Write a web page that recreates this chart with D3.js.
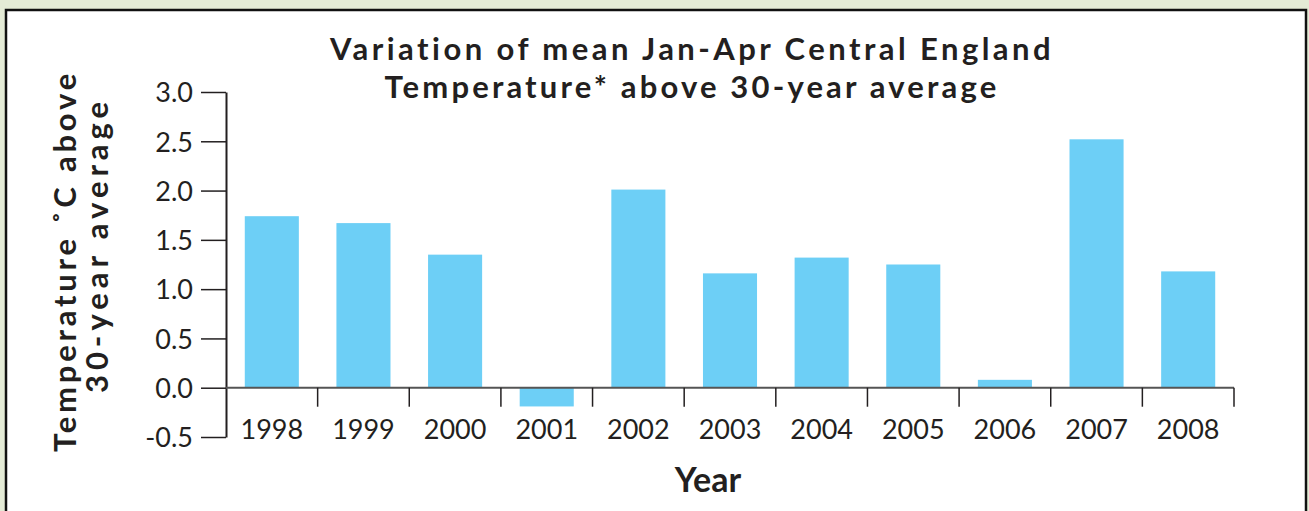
<!DOCTYPE html>
<html>
<head>
<meta charset="utf-8">
<script src="https://cdn.jsdelivr.net/npm/d3@7"></script>
<style>
  html, body { margin: 0; padding: 0; background: #e4ebd6; }
  svg { display: block; }
  text { font-family: Lato, "Open Sans", sans-serif; fill: #231f20; font-variant-ligatures: none; }
</style>
</head>
<body>
<script>
const years = ["1998","1999","2000","2001","2002","2003","2004","2005","2006","2007","2008"];
const anomalies = [1.74, 1.67, 1.35, -0.19, 2.01, 1.16, 1.32, 1.25, 0.08, 2.52, 1.18];
const yTicks = [-0.5, 0.0, 0.5, 1.0, 1.5, 2.0, 2.5, 3.0];
const titleLines = ["Variation of mean Jan-Apr Central England", "Temperature* above 30-year average"];
const yLabelLines = ["Temperature \u02DAC above", "30-year average"];
const xLabel = "Year";

const W = 1309, H = 511;
const svg = d3.select("body").append("svg").attr("width", W).attr("height", H);

// frame
svg.append("rect").attr("x", 6).attr("y", 10).attr("width", 1300).attr("height", 520)
  .attr("fill", "#fff").attr("stroke", "#111").attr("stroke-width", 2.5);

const x0 = 226, x1 = 1234;
const x = d3.scaleBand().domain(years).range([x0, x1]).paddingInner(0.41).paddingOuter(0.205);
const y = d3.scaleLinear().domain([-0.5, 3.0]).range([437, 92]);

// bars
svg.append("g").selectAll("rect").data(years).join("rect")
  .attr("x", d => x(d))
  .attr("width", x.bandwidth())
  .attr("y", (d, i) => y(Math.max(0, anomalies[i])))
  .attr("height", (d, i) => Math.abs(y(anomalies[i]) - y(0)))
  .attr("fill", "#6dcff6");

// y axis
const yAxis = svg.append("g").attr("transform", `translate(${x0},0)`)
  .call(d3.axisLeft(y).tickValues(yTicks).tickSize(25).tickSizeOuter(0).tickPadding(8));
yAxis.select(".domain").attr("stroke", "#231f20").attr("stroke-width", 2);
yAxis.selectAll(".tick line").attr("stroke", "#231f20").attr("stroke-width", 1.5);
yAxis.selectAll(".tick text").style("font-size", "27px").attr("fill", "#231f20")
  .text(d => d < 0 ? "-" + Math.abs(d).toFixed(1) : d.toFixed(1)).attr("dy", "0.36em");

// x axis at zero: line + boundary ticks
const xAxisScale = d3.scaleLinear().domain([0, years.length]).range([x0, x1]);
const xg = svg.append("g").attr("transform", `translate(0,${y(0)})`);
xg.append("line").attr("x1", x0).attr("x2", x1).attr("y1", 0).attr("y2", 0)
  .attr("stroke", "#555").attr("stroke-width", 2);
xg.selectAll("line.tk").data(d3.range(1, years.length + 1)).join("line").attr("class", "tk")
  .attr("x1", d => xAxisScale(d)).attr("x2", d => xAxisScale(d)).attr("y1", 0).attr("y2", 19)
  .attr("stroke", "#231f20").attr("stroke-width", 1.5);
svg.append("g").selectAll("text").data(years).join("text")
  .attr("x", d => x(d) + x.bandwidth() / 2).attr("y", 439)
  .attr("text-anchor", "middle").style("font-size", "27px").text(d => d);

// spread text to a target width with letter spacing (glyph size kept)
function fitText(sel, target) {
  const w = sel.node().getComputedTextLength();
  const n = sel.text().length;
  sel.style("letter-spacing", Math.max(0, (target - w) / n) + "px");
}
const t1 = svg.append("text").attr("x", 692).attr("y", 60).attr("text-anchor", "middle")
  .style("font-size", "31px").style("font-weight", "bold").text(titleLines[0]);
fitText(t1, 724);
const t2 = svg.append("text").attr("x", 692).attr("y", 98).attr("text-anchor", "middle")
  .style("font-size", "31px").style("font-weight", "bold").text(titleLines[1]);
fitText(t2, 615);

// y label
const yl1 = svg.append("text").attr("transform", "translate(76,261) rotate(-90)").attr("text-anchor", "middle")
  .style("font-size", "31px").style("font-weight", "bold").text(yLabelLines[0]);
fitText(yl1, 382);
const yl2 = svg.append("text").attr("transform", "translate(108,245) rotate(-90)").attr("text-anchor", "middle")
  .style("font-size", "31px").style("font-weight", "bold").text(yLabelLines[1]);
fitText(yl2, 296);

// x label
svg.append("text").attr("x", 708).attr("y", 492).attr("text-anchor", "middle")
  .style("font-size", "34px").style("font-weight", "bold").text(xLabel);
</script>
</body>
</html>
